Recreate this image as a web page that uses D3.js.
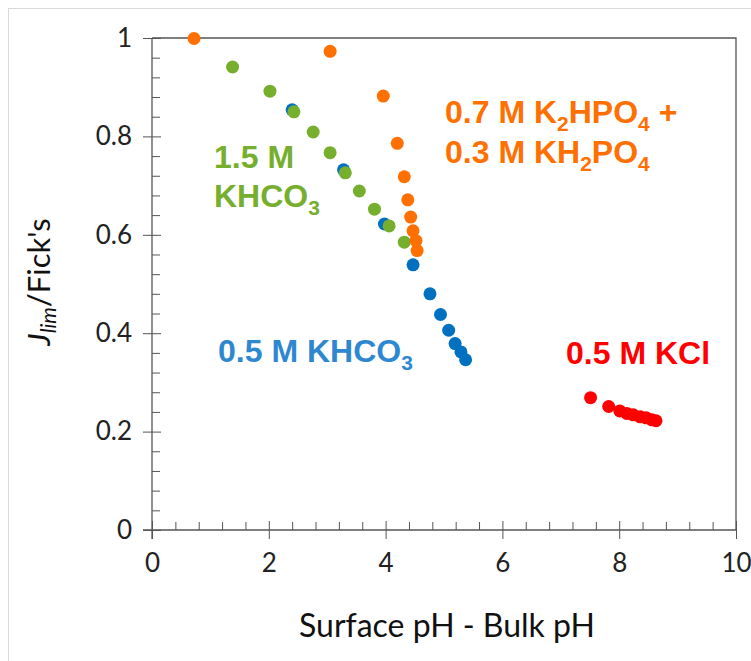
<!DOCTYPE html>
<html>
<head>
<meta charset="utf-8">
<script src="https://cdn.jsdelivr.net/npm/d3@7"></script>
<style>
  body { margin: 0; background: #fff; }
  svg text { font-family: Lato, "Liberation Sans", sans-serif; }
  .lbl { font-family: "Liberation Sans", Arial, sans-serif; font-weight: bold; font-size: 32px; }
</style>
</head>
<body>
<div id="chart-area"></div>
<script>
let width = 751,
height = 661;

// data: [surface pH - bulk pH, Jlim/Fick's]
let orangeX = [0.72, 3.05, 3.96, 4.20, 4.32, 4.38, 4.43, 4.47, 4.52, 4.54];
let orangeY = [0.999, 0.973, 0.882, 0.786, 0.718, 0.671, 0.636, 0.608, 0.588, 0.568];

let greenX = [1.38, 2.02, 2.43, 2.76, 3.05, 3.31, 3.55, 3.81, 4.06, 4.32];
let greenY = [0.941, 0.892, 0.850, 0.809, 0.767, 0.726, 0.689, 0.652, 0.618, 0.585];

let blueX = [2.40, 3.28, 3.98, 4.47, 4.76, 4.94, 5.08, 5.19, 5.29, 5.37];
let blueY = [0.854, 0.732, 0.622, 0.539, 0.480, 0.438, 0.406, 0.379, 0.362, 0.346];

let redX = [7.51, 7.82, 8.01, 8.13, 8.24, 8.36, 8.46, 8.56, 8.63];
let redY = [0.269, 0.251, 0.242, 0.237, 0.234, 0.230, 0.228, 0.224, 0.222];

let xTicks = [0, 2, 4, 6, 8, 10];
let yTicks = [0, 0.2, 0.4, 0.6, 0.8, 1];
let yTickLabels = ["0", "0.2", "0.4", "0.6", "0.8", "1"];

let series = [
  {xs: blueX, ys: blueY, color: "#0070C0"},
  {xs: greenX, ys: greenY, color: "#76AE2E"},
  {xs: orangeX, ys: orangeY, color: "#FF7000"},
  {xs: redX, ys: redY, color: "#FF0000"}
];

let svg = d3.select("#chart-area").append("svg")
  .attr("width", width)
  .attr("height", height);

// chart border (light gray)
svg.append("rect")
  .attr("x", 8.5).attr("y", 8.5)
  .attr("width", 900).attr("height", 900)
  .attr("fill", "none").attr("stroke", "#d9d9d9");

let x = d3.scaleLinear().domain([0, 10]).range([152, 736]);
let y = d3.scaleLinear().domain([0, 1]).range([530, 38]);

let axisColor = "#555";

// plot area frame, top and right
svg.append("path")
  .attr("d", `M${x(0)},${y(1)}H${x(10)}V${y(0)}`)
  .attr("fill", "none").attr("stroke", axisColor).attr("stroke-width", 1.3);

// minor ticks, inside
let xMinor = d3.range(0, 10.01, 0.4).filter(v => Math.abs(v / 2 - Math.round(v / 2)) > 0.01);
let yMinor = d3.range(0, 1.001, 0.04).filter(v => Math.abs(v / 0.2 - Math.round(v / 0.2)) > 0.01);

svg.append("g")
  .attr("transform", `translate(0,${y(0)})`)
  .call(d3.axisBottom(x).tickValues(xMinor).tickSize(-8).tickFormat(""))
  .call(g => g.select(".domain").remove())
  .selectAll("line").attr("stroke", axisColor);

svg.append("g")
  .attr("transform", `translate(${x(0)},0)`)
  .call(d3.axisLeft(y).tickValues(yMinor).tickSize(-8).tickFormat(""))
  .call(g => g.select(".domain").remove())
  .selectAll("line").attr("stroke", axisColor);

// major axes, ticks crossing the line
let gx = svg.append("g")
  .attr("transform", `translate(0,${y(0)})`)
  .call(d3.axisBottom(x).tickValues(xTicks).tickSize(9).tickSizeOuter(0).tickPadding(15).tickFormat(d3.format("d")));
gx.selectAll(".tick line").attr("y1", -9).attr("stroke", axisColor);
gx.select(".domain").attr("d", `M${x(0) - 9},0H${x(10)}`).attr("stroke", axisColor).attr("stroke-width", 1.3);
gx.selectAll("text").attr("font-size", 26).attr("fill", "#222").attr("font-family", "Lato, sans-serif");

let gy = svg.append("g")
  .attr("transform", `translate(${x(0)},0)`)
  .call(d3.axisLeft(y).tickValues(yTicks).tickSize(9).tickSizeOuter(0).tickPadding(11)
    .tickFormat((d, i) => yTickLabels[i]));
gy.selectAll(".tick line").attr("x1", 9).attr("stroke", axisColor);
gy.select(".domain").attr("d", `M0,${y(0) + 9}V${y(1)}`).attr("stroke", axisColor).attr("stroke-width", 1.3);
gy.selectAll("text").attr("font-size", 26).attr("fill", "#222").attr("font-family", "Lato, sans-serif");

// points
series.forEach(s => {
  svg.append("g").selectAll("circle")
    .data(s.xs.map((v, i) => [v, s.ys[i]]))
    .enter()
    .append("circle")
    .attr("cx", d => x(d[0]))
    .attr("cy", d => y(d[1]))
    .attr("r", 6.5)
    .attr("fill", s.color);
});

// axis titles
svg.append("text")
  .attr("x", 447).attr("y", 637)
  .attr("text-anchor", "middle")
  .attr("font-size", 32).attr("fill", "#111")
  .text("Surface pH - Bulk pH");

let yt = svg.append("text")
  .attr("transform", "translate(50,282) rotate(-90)")
  .attr("text-anchor", "middle")
  .attr("font-size", 31).attr("fill", "#111");
yt.append("tspan").attr("font-style", "italic").text("J");
yt.append("tspan").attr("font-style", "italic").attr("font-size", 21).attr("dy", 6).text("lim");
yt.append("tspan").attr("dy", -6).text("/Fick's");

// series labels
function label(px, py, parts, color) {
  let t = svg.append("text").attr("class", "lbl").attr("x", px).attr("y", py).attr("fill", color);
  let shift = 0;
  parts.forEach(p => {
    let sub = p.startsWith("_");
    let dy = (sub ? 8 : 0) - shift;
    shift = sub ? 8 : 0;
    t.append("tspan").attr("dy", dy).attr("font-size", sub ? 21 : null).text(sub ? p.slice(1) : p);
  });
}

label(214, 168, ["1.5 M"], "#76AE2E");
label(214, 207, ["KHCO", "_3"], "#76AE2E");
label(445, 123, ["0.7 M K", "_2", "HPO", "_4", " +"], "#FF7000");
label(445, 163, ["0.3 M KH", "_2", "PO", "_4"], "#FF7000");
label(218, 362, ["0.5 M KHCO", "_3"], "#2E88D0");
label(566, 364, ["0.5 M KCl"], "#FF0000");
</script>
</body>
</html>
